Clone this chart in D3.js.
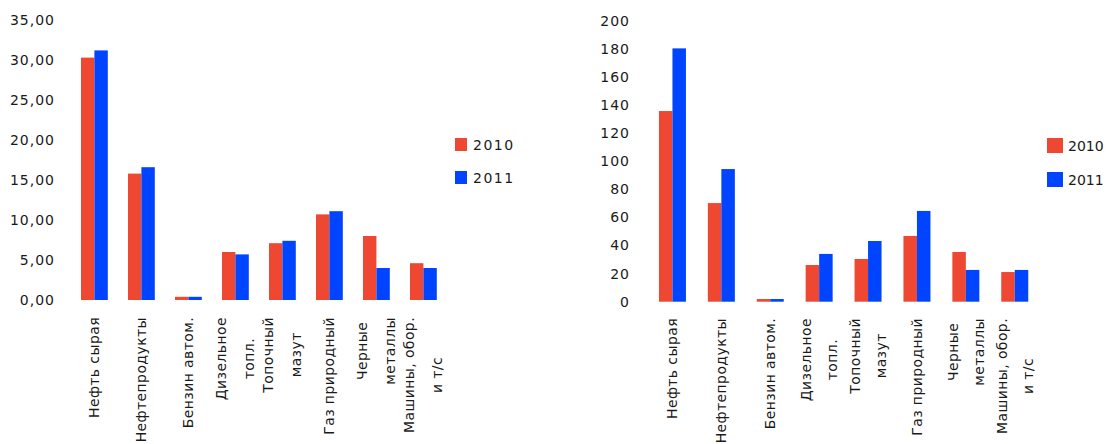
<!DOCTYPE html>
<html>
<head>
<meta charset="utf-8">
<script src="https://cdn.jsdelivr.net/npm/d3@7"></script>
<style>
  html, body { margin: 0; padding: 0; background: #fff; }
  svg text { font-family: "DejaVu Sans", sans-serif; fill: #1a1a1a; }
</style>
</head>
<body>
<svg id="chart" width="1107" height="444"></svg>
<script>
// Category labels, split into lines
const categories = [
  ["Нефть сырая"],
  ["Нефтепродукты"],
  ["Бензин автом."],
  ["Дизельное", "топл."],
  ["Топочный", "мазут"],
  ["Газ природный"],
  ["Черные", "металлы"],
  ["Машины, обор.", "и т/с"]
];
const seriesNames = ["2010", "2011"];
const seriesColors = ["#EE4732", "#0044FF"];

// Left panel values
const left2010 = [30.3, 15.8, 0.4, 6.0, 7.1, 10.7, 8.0, 4.6];
const left2011 = [31.2, 16.6, 0.4, 5.7, 7.4, 11.1, 4.0, 4.0];
const leftTicks = [0, 5, 10, 15, 20, 25, 30, 35];

// Right panel values
const right2010 = [135.7, 70.2, 1.9, 26.1, 30.4, 46.8, 35.4, 21.1];
const right2011 = [180.3, 94.4, 1.9, 34.0, 43.2, 64.6, 22.6, 22.6];
const rightTicks = [0, 20, 40, 60, 80, 100, 120, 140, 160, 180, 200];

const svg = d3.select("#chart");
const ruLocale = d3.formatLocale({ decimal: ",", thousands: " ", grouping: [3], currency: ["", ""] });

function panel(cfg) {
  const g = svg.append("g");
  const keys = categories.map((c, i) => i);
  const x = d3.scaleBand().domain(keys).range(cfg.xRange)
    .paddingInner(cfg.padIn).paddingOuter(cfg.padIn / 2);
  const xs = d3.scaleBand().domain([0, 1]).range([0, x.bandwidth()]);
  const y = d3.scaleLinear().domain([0, cfg.yMax]).range(cfg.yRange);

  // y axis: labels only
  const yAxis = d3.axisLeft(y).tickValues(cfg.ticks).tickSize(0).tickPadding(0)
    .tickFormat(cfg.fmt);
  const ya = g.append("g").attr("transform", `translate(${cfg.yLabelX},0)`).call(yAxis);
  ya.select(".domain").remove();
  ya.selectAll("text").style("font-family", "DejaVu Sans").style("font-size", "14px")
    .style("letter-spacing", "1px").attr("fill", "#1a1a1a");

  // bars
  const series = [cfg.s2010, cfg.s2011];
  series.forEach((vals, si) => {
    g.append("g").selectAll("rect").data(vals).join("rect")
      .attr("x", (d, i) => x(i) + xs(si))
      .attr("y", d => y(d))
      .attr("width", xs.bandwidth())
      .attr("height", d => y(0) - y(d))
      .attr("fill", seriesColors[si]);
  });

  // category labels, rotated, reading bottom to top
  const lab = g.append("g");
  categories.forEach((lines, i) => {
    const cx = x(i) + x.bandwidth() / 2;
    const grp = lab.append("g");
    const texts = lines.map(t => grp.append("text").text(t)
      .style("font-size", "14px").style("letter-spacing", "0.4px")
      .attr("text-anchor", "middle"));
    const maxW = d3.max(texts, t => t.node().getComputedTextLength());
    const cy = cfg.labelTop + maxW / 2;
    const n = lines.length;
    texts.forEach((t, li) => {
      const lx = cx + (li - (n - 1) / 2) * cfg.lineGap + 5;
      t.attr("transform", `translate(${lx},${cy}) rotate(-90)`);
    });
  });

  // legend
  const lg = g.append("g");
  seriesNames.forEach((name, si) => {
    const ly = cfg.legend.y[si];
    lg.append("rect").attr("x", cfg.legend.x).attr("y", ly)
      .attr("width", cfg.legend.w).attr("height", cfg.legend.h)
      .attr("fill", seriesColors[si]);
    lg.append("text").attr("x", cfg.legend.tx).attr("y", ly + cfg.legend.h / 2)
      .attr("dy", "0.36em").style("font-size", "14px")
      .style("letter-spacing", cfg.legend.ls)
      .text(name);
  });
}

panel({
  xRange: [70.9, 446.9], padIn: 0.43,
  yMax: 35, yRange: [300, 20], ticks: leftTicks, fmt: ruLocale.format(".2f"),
  yLabelX: 55, s2010: left2010, s2011: left2011,
  labelTop: 317, lineGap: 28,
  legend: { x: 455, y: [138, 171], w: 12, h: 13, tx: 473, ls: "1.5px" }
});

panel({
  xRange: [648, 1039.2], padIn: 0.448,
  yMax: 200, yRange: [301.7, 20.7], ticks: rightTicks, fmt: d3.format("d"),
  yLabelX: 630, s2010: right2010, s2011: right2011,
  labelTop: 318, lineGap: 26.5,
  legend: { x: 1047, y: [138, 172], w: 16, h: 15, tx: 1068, ls: "0px" }
});
</script>
</body>
</html>
